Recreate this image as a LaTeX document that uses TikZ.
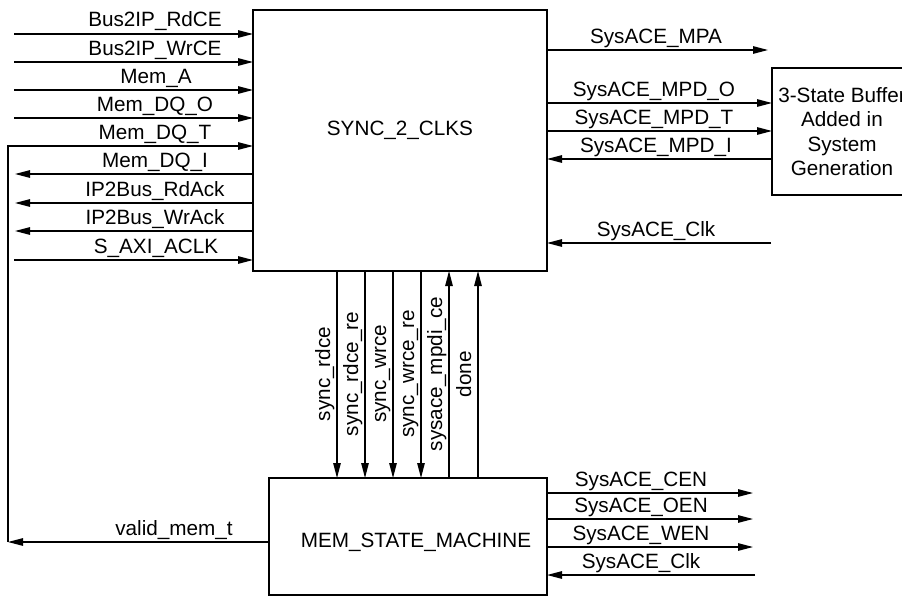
\documentclass[tikz,border=0pt]{standalone}
\usepackage{fontspec}
\setmainfont{Liberation Sans}
\usetikzlibrary{arrows.meta}
\begin{document}
\begin{tikzpicture}[x=1pt,y=-1pt,
  font=\fontsize{20.7}{24.5}\selectfont,
  sig/.style={line width=1.2pt,-{Triangle[length=15pt,width=7.5pt]}},
  wire/.style={line width=1.2pt},
  blk/.style={draw,line width=2.4pt,outer sep=0pt,inner sep=0pt},
  lbl/.style={anchor=base,inner sep=0pt},
  vlbl/.style={rotate=90,anchor=base,inner sep=0pt}]
\useasboundingbox (0,0) rectangle (902,597);
% blocks
\node[blk,minimum width=294pt,minimum height=261pt] (sync) at (400,140.5) {};
\node[inner sep=0pt] (synct) at (400,130) {SYNC\_2\_CLKS};
\node[blk,minimum width=278pt,minimum height=117pt] (mem) at (408,536.5) {};
\node[inner sep=0pt] (memt) at (416,542) {MEM\_STATE\_MACHINE};
\node[blk,minimum width=140pt,minimum height=127pt,align=center] (buf) at (842,131.5)
  {3-State Buffer\\Added in\\System\\Generation};
% left inputs
\coordinate (a1) at (14,34);
\coordinate (a2) at (14,62);
\coordinate (a3) at (14,90);
\coordinate (a4) at (14,118);
\coordinate (a5) at (8,146);
\coordinate (a9) at (14,260);
\foreach \c in {a1,a2,a3,a4,a9} \draw[sig] (\c) -- (\c -| sync.west);
% left outputs
\coordinate (o6) at (15,174);
\coordinate (o7) at (15,203);
\coordinate (o8) at (15,231);
\foreach \c in {o6,o7,o8} \draw[sig] (\c -| sync.west) -- (\c);
% valid_mem_t feedback to Mem_DQ_T
\coordinate (vm) at (8,542);
\draw[sig] (vm -| mem.west) -- (vm);
\draw[sig] (vm) -- (a5) -- (a5 -| sync.west);
% left labels
\node[lbl] (l1) at (155,27) {Bus2IP\_RdCE};
\node[lbl] (l2) at (155,55) {Bus2IP\_WrCE};
\node[lbl] (l3) at (156,83) {Mem\_A};
\node[lbl] (l4) at (155,111) {Mem\_DQ\_O};
\node[lbl] (l5) at (155,139) {Mem\_DQ\_T};
\node[lbl] (l6) at (155,167) {Mem\_DQ\_I};
\node[lbl] (l7) at (155,196) {IP2Bus\_RdAck};
\node[lbl] (l8) at (155,224) {IP2Bus\_WrAck};
\node[lbl] (l9) at (156,253) {S\_AXI\_ACLK};
\node[lbl] (lv) at (174,535) {valid\_mem\_t};
% right side of sync
\coordinate (r1) at (768,50);
\draw[sig] (r1 -| sync.east) -- (r1);
\coordinate (r2) at (772,103);
\coordinate (r3) at (772,131);
\coordinate (r4) at (772,159);
\draw[sig] (sync.east |- r2) -- (buf.west |- r2);
\draw[sig] (sync.east |- r3) -- (buf.west |- r3);
\draw[sig] (buf.west |- r4) -- (sync.east |- r4);
\coordinate (r5) at (771,243);
\draw[sig] (r5) -- (r5 -| sync.east);
\node[lbl] (rl1) at (656,43) {SysACE\_MPA};
\node[lbl] (rl2) at (654,96) {SysACE\_MPD\_O};
\node[lbl] (rl3) at (654,124) {SysACE\_MPD\_T};
\node[lbl] (rl4) at (656,152) {SysACE\_MPD\_I};
\node[lbl] (rl5) at (656,236) {SysACE\_Clk};
% vertical signals
\coordinate (v1) at (337,0);
\coordinate (v2) at (365,0);
\coordinate (v3) at (393,0);
\coordinate (v4) at (421,0);
\coordinate (v5) at (449,0);
\coordinate (v6) at (478,0);
\foreach \c in {v1,v2,v3,v4} \draw[sig] (\c |- sync.south) -- (\c |- mem.north);
\foreach \c in {v5,v6} \draw[sig] (\c |- mem.north) -- (\c |- sync.south);
\node[vlbl] (vl1) at (330,374) {sync\_rdce};
\node[vlbl] (vl2) at (358,374) {sync\_rdce\_re};
\node[vlbl] (vl3) at (386,374) {sync\_wrce};
\node[vlbl] (vl4) at (414,374) {sync\_wrce\_re};
\node[vlbl] (vl5) at (442,374) {sysace\_mpdi\_ce};
\node[vlbl] (vl6) at (471,374) {done};
% bottom right
\coordinate (b1) at (753,493);
\coordinate (b2) at (753,519);
\coordinate (b3) at (753,547);
\coordinate (b4) at (755,575);
\foreach \c in {b1,b2,b3} \draw[sig] (\c -| mem.east) -- (\c);
\draw[sig] (b4) -- (b4 -| mem.east);
\node[lbl] (bl1) at (641,486) {SysACE\_CEN};
\node[lbl] (bl2) at (641,512) {SysACE\_OEN};
\node[lbl] (bl3) at (641,540) {SysACE\_WEN};
\node[lbl] (bl4) at (641,568) {SysACE\_Clk};
\end{tikzpicture}
\end{document}
